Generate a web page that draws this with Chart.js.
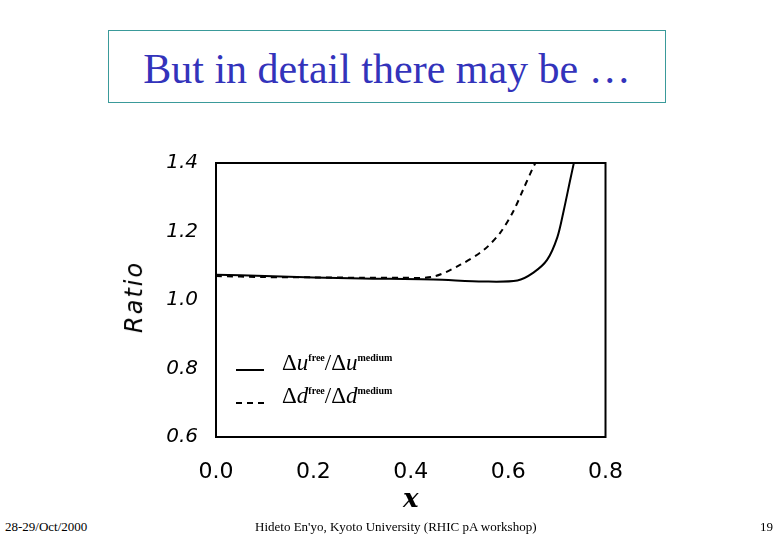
<!DOCTYPE html>
<html>
<head>
<meta charset="utf-8">
<script src="https://cdn.jsdelivr.net/npm/chart.js@4"></script>
<style>
  body { margin: 0; width: 780px; height: 540px; background: #fff; position: relative; overflow: hidden; font-family: "Liberation Serif", serif; }
  #title { position: absolute; left: 108px; top: 30px; width: 556px; height: 71px; border: 1px solid #3a9a9a; color: #3333bb; font-size: 42px; text-align: center; line-height: 76px; }
  #wrap { position: absolute; left: 120px; top: 141px; width: 517px; height: 379px; }
  .foot { position: absolute; top: 519px; font-size: 13px; color: #000; }
  #ratio { position: absolute; left: 98px; top: 283px; transform: rotate(-90deg); font: italic 24px "DejaVu Sans", sans-serif; letter-spacing: 2px; }
  .leg { position: absolute; font: 23px "Liberation Serif", serif; }
  .leg sup { font-size: 10px; font-weight: bold; }
</style>
</head>
<body>
<div id="title">But in detail there may be …</div>
<div id="wrap"><canvas id="c"></canvas></div>
<div id="ratio">Ratio</div>
<div class="leg" style="left:236px;top:369px;width:28px;border-top:2px solid #000"></div>
<div class="leg" style="left:236px;top:402px;width:28px;border-top:2px dashed #000"></div>
<div class="leg" style="left:282px;top:350px">Δ<i>u</i><sup>free</sup>/Δ<i>u</i><sup>medium</sup></div>
<div class="leg" style="left:282px;top:383px">Δ<i>d</i><sup>free</sup>/Δ<i>d</i><sup>medium</sup></div>
<div class="foot" style="left:5px">28-29/Oct/2000</div>
<div class="foot" style="left:255px">Hideto En'yo, Kyoto University (RHIC pA workshop)</div>
<div class="foot" style="left:760px">19</div>
<script>
const solidX = [0.0, 0.1, 0.2, 0.3, 0.446, 0.55, 0.619, 0.652, 0.68, 0.701, 0.714, 0.728, 0.735];
const solidY = [1.074, 1.07, 1.066, 1.063, 1.06, 1.054, 1.057, 1.08, 1.117, 1.183, 1.26, 1.354, 1.4];
const dashX = [0.0, 0.1, 0.2, 0.3, 0.378, 0.446, 0.502, 0.55, 0.584, 0.611, 0.632, 0.65, 0.656];
const dashY = [1.07, 1.067, 1.066, 1.065, 1.065, 1.068, 1.103, 1.146, 1.197, 1.26, 1.326, 1.383, 1.4];
const yTicks = [0.6, 0.8, 1.0, 1.2, 1.4];
const xTicks = [0.0, 0.2, 0.4, 0.6, 0.8];

const pts = (xs, ys) => xs.map((x, i) => ({ x: x, y: ys[i] }));

const frame = {
  id: 'frame',
  afterDraw(chart) {
    const a = chart.chartArea, ctx = chart.ctx;
    ctx.save();
    ctx.strokeStyle = '#000';
    ctx.lineWidth = 2;
    ctx.strokeRect(a.left, a.top, a.right - a.left, a.bottom - a.top);
    ctx.restore();
  }
};

new Chart(document.getElementById('c'), {
  type: 'scatter',
  data: {
    datasets: [
      { data: pts(solidX, solidY), showLine: true, borderColor: '#000', borderWidth: 2, pointRadius: 0, tension: 0.3 },
      { data: pts(dashX, dashY), showLine: true, borderColor: '#000', borderWidth: 2, borderDash: [6, 5], pointRadius: 0, tension: 0.3 }
    ]
  },
  options: {
    animation: false,
    responsive: true,
    maintainAspectRatio: false,
    layout: { padding: { top: 4, right: 18, left: 0, bottom: 0 } },
    plugins: { legend: { display: false }, tooltip: { enabled: false } },
    scales: {
      x: {
        type: 'linear', min: 0, max: 0.8,
        afterBuildTicks: s => { s.ticks = xTicks.map(v => ({ value: v })); },
        afterFit: s => { s.height = 83; },
        grid: { display: false },
        border: { display: false },
        ticks: { color: '#000', font: { family: 'DejaVu Sans', size: 22 }, padding: 14, callback: v => v.toFixed(1) },
        title: { display: true, text: 'x', color: '#000', font: { family: 'DejaVu Serif', size: 26, style: 'italic', weight: 'bold' }, padding: { top: 0 } }
      },
      y: {
        type: 'linear', min: 0.6, max: 1.4,
        afterBuildTicks: s => { s.ticks = yTicks.map(v => ({ value: v })); },
        afterFit: s => { s.width = 96; },
        grid: { display: false },
        border: { display: false },
        ticks: { color: '#000', font: { family: 'DejaVu Sans', size: 20, style: 'italic' }, padding: 10, callback: v => v.toFixed(1) }
      }
    }
  },
  plugins: [frame]
});
</script>
</body>
</html>
